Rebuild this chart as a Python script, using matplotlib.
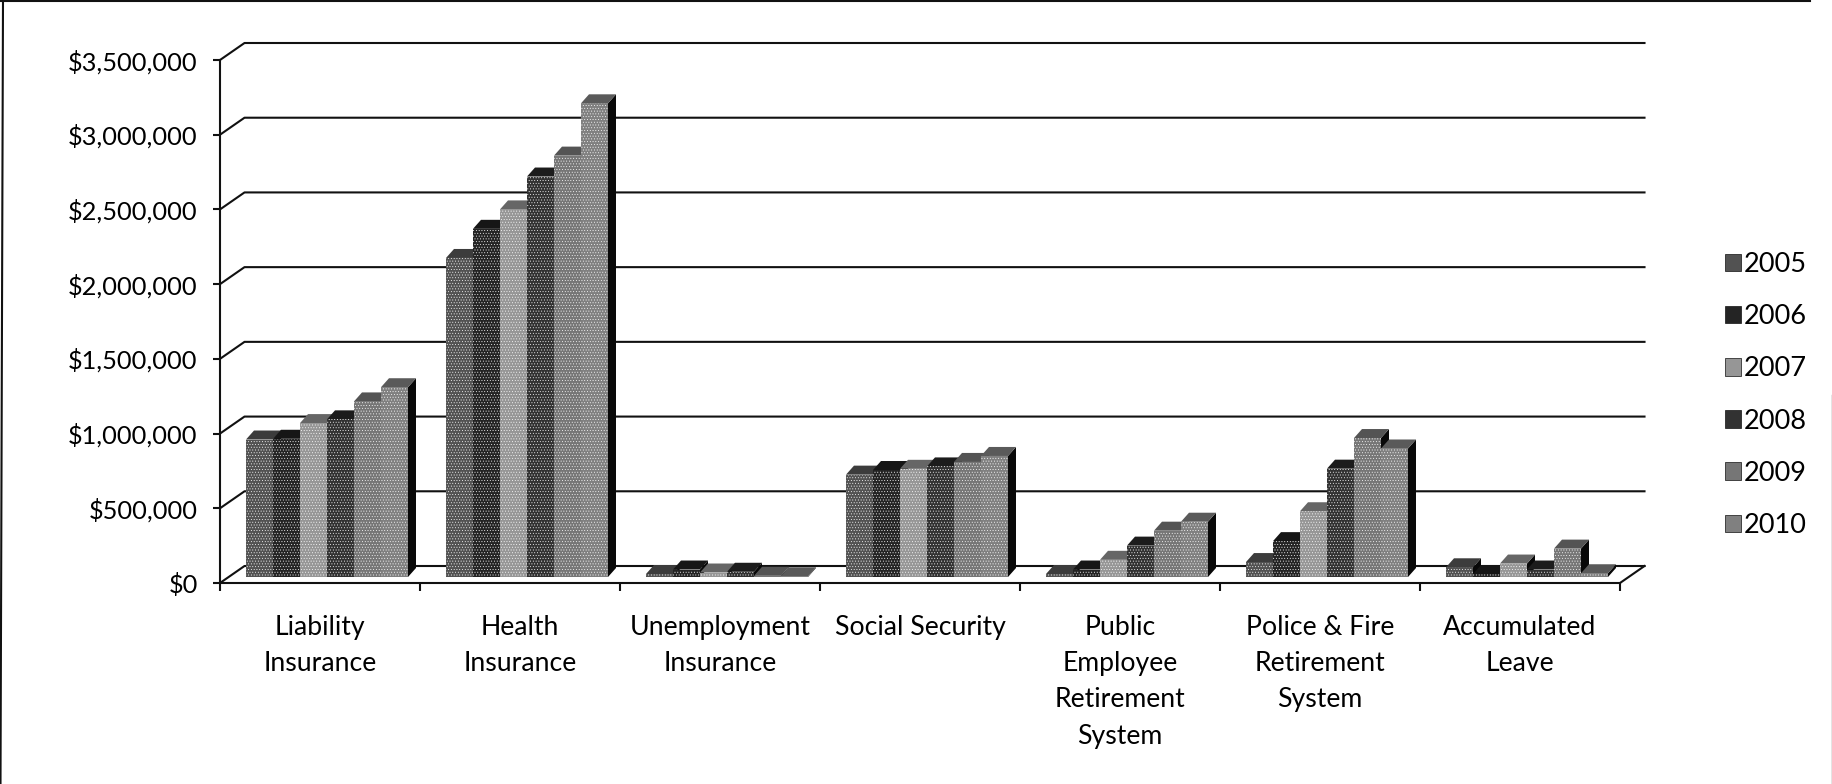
import matplotlib
matplotlib.use('Agg')
import matplotlib.pyplot as plt
from matplotlib.patches import Patch
from matplotlib.lines import Line2D

plt.rcParams['font.family'] = ['Lato', 'DejaVu Sans']
plt.rcParams['hatch.linewidth'] = 0.3

categories = ['Liability\nInsurance', 'Health\nInsurance', 'Unemployment\nInsurance',
              'Social Security', 'Public\nEmployee\nRetirement\nSystem',
              'Police & Fire\nRetirement\nSystem', 'Accumulated\nLeave']
years = ['2005', '2006', '2007', '2008', '2009', '2010']
y_ticks = [0, 500000, 1000000, 1500000, 2000000, 2500000, 3000000, 3500000]

v2005 = [920000, 2135000, 20000, 685000, 20000, 100000, 65000]
v2006 = [925000, 2330000, 50000, 716000, 50000, 240000, 20000]
v2007 = [1030000, 2460000, 30000, 724000, 115000, 440000, 90000]
v2008 = [1055000, 2680000, 35000, 740000, 210000, 725000, 50000]
v2009 = [1175000, 2820000, 8000, 770000, 310000, 930000, 190000]
v2010 = [1270000, 3170000, 5000, 810000, 370000, 860000, 25000]
series = [v2005, v2006, v2007, v2008, v2009, v2010]

front_colors = ['#525252', '#242424', '#969696', '#323232', '#767676', '#808080']
top_colors = ['#3c3c3c', '#161616', '#666666', '#1c1c1c', '#545454', '#5a5a5a']
side_color = '#080808'

W, H = 1833, 784
fig = plt.figure(figsize=(W / 100, H / 100), dpi=100, facecolor='white')
ax = fig.add_axes([220 / W, 1 - 583 / H, 1400 / W, 523 / H])
ax.set_xlim(0, 7)
ax.set_ylim(0, 3500000)
ax.patch.set_visible(False)

# pixels to data units
px_x = 7 / 1400
px_y = 3500000 / 523
wall_dx, wall_dy = 24.5 * px_x, 17 * px_y
bar_dx, bar_dy = 8 * px_x, 9 * px_y
bar_w = 27 * px_x
bar_start = 26 * px_x
bar_base = 6 * px_y

# back wall gridlines and floor
for v in y_ticks:
    ax.plot([0, wall_dx, 7 + wall_dx], [v, v + wall_dy, v + wall_dy],
            color='#111111', lw=1.5, clip_on=False, zorder=1)
ax.plot([7, 7 + wall_dx], [0, wall_dy], color='#111111', lw=1.5, clip_on=False, zorder=1)

# bars, left to right so the next front face covers the previous side
z = 2
for g in range(len(categories)):
    for s, vals in enumerate(series):
        x0 = g + bar_start + s * bar_w
        x1 = x0 + bar_w
        top = bar_base + vals[g]
        ax.fill([x1, x1 + bar_dx, x1 + bar_dx, x1],
                [bar_base, bar_base + bar_dy, top + bar_dy, top],
                color=side_color, lw=0, zorder=z, clip_on=False)
        ax.fill([x0, x0 + bar_dx, x1 + bar_dx, x1],
                [top, top + bar_dy, top + bar_dy, top],
                color=top_colors[s], lw=0, zorder=z, clip_on=False)
        ax.bar(x0, vals[g], bar_w, bottom=bar_base, align='edge', color=front_colors[s],
               edgecolor='white', hatch='......', lw=0, zorder=z + 0.5)
        z += 1

ax.set_yticks(y_ticks)
ax.set_yticklabels(['$' + format(v, ',') for v in y_ticks], fontsize=18.3, color='black')
ax.set_xticks(range(8))
ax.set_xticklabels([])
ax.set_xticks([i + 0.5 for i in range(7)], minor=True)
ax.set_xticklabels(categories, minor=True, fontsize=19.2, color='black', linespacing=1.56)
ax.tick_params(axis='x', which='major', length=6, width=1.5, color='#111111')
ax.tick_params(axis='x', which='minor', length=0, pad=23)
ax.tick_params(axis='y', length=5, width=1.5, color='#111111', pad=11)
for side in ['top', 'right']:
    ax.spines[side].set_visible(False)
for side in ['left', 'bottom']:
    ax.spines[side].set_linewidth(1.5)
    ax.spines[side].set_color('#111111')

handles = [Patch(facecolor=c, edgecolor='#111111', lw=0.5) for c in front_colors]
fig.legend(handles, years, loc='center left', bbox_to_anchor=(1725 / W, 1 - 395 / H),
           frameon=False, fontsize=19.5, labelcolor='black', handlelength=0.6, handleheight=0.6,
           labelspacing=1.0, handletextpad=0.09, borderpad=0, borderaxespad=0)

# scan border
fig.add_artist(Line2D([3 / W, 0.5 / W], [1, 0], color='#111111', lw=1.5))
fig.add_artist(Line2D([0, 1810 / W], [1 - 1 / H, 1 - 1 / H], color='#111111', lw=1.5))
fig.add_artist(Line2D([1832 / W, 1832 / W], [1 - 395 / H, 0], color='#777777', lw=1))

fig.savefig('out.png', dpi=100)
